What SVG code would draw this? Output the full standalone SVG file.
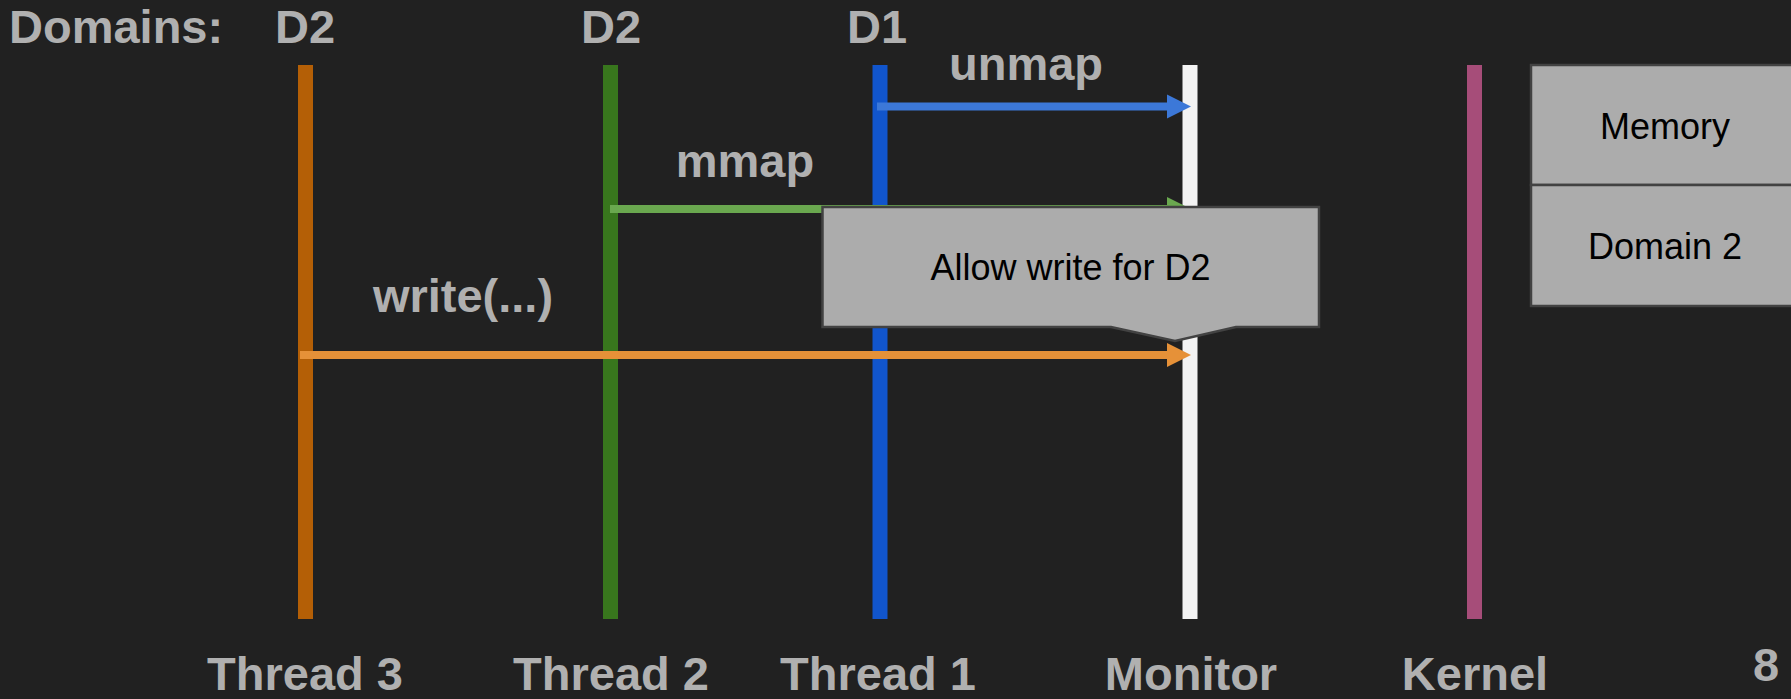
<svg xmlns="http://www.w3.org/2000/svg" width="1791" height="699" viewBox="0 0 1791 699">
  <style>
    .lbl { font-family: "Liberation Sans", Arial, sans-serif; font-weight: bold; font-size: 47px; fill: #b0b0b0; }
    .mid { text-anchor: middle; }
    .box { fill: #acacac; stroke: #424242; stroke-width: 2.5; }
    .boxtxt { font-family: "Liberation Sans", Arial, sans-serif; font-size: 36px; fill: #000000; text-anchor: middle; }
    .life { stroke-width: 15; }
    .msg { stroke-width: 8; fill: none; }
  </style>
  <defs>
    <marker id="headBlue" markerUnits="userSpaceOnUse" markerWidth="24" markerHeight="24" refX="0" refY="12" orient="auto" overflow="visible">
      <path d="M0,0 L24,12 L0,24 z" fill="#3c78d8"/>
    </marker>
    <marker id="headGreen" markerUnits="userSpaceOnUse" markerWidth="24" markerHeight="24" refX="0" refY="12" orient="auto" overflow="visible">
      <path d="M0,0 L24,12 L0,24 z" fill="#6aa84f"/>
    </marker>
    <marker id="headOrange" markerUnits="userSpaceOnUse" markerWidth="24" markerHeight="24" refX="0" refY="12" orient="auto" overflow="visible">
      <path d="M0,0 L24,12 L0,24 z" fill="#e69138"/>
    </marker>
  </defs>

  <rect x="0" y="0" width="1791" height="699" fill="#212121"/>

  <!-- domain header -->
  <g id="domains">
    <text class="lbl" x="9" y="43">Domains:</text>
    <text class="lbl mid" x="305" y="43">D2</text>
    <text class="lbl mid" x="611" y="43">D2</text>
    <text class="lbl mid" x="877" y="43">D1</text>
  </g>

  <!-- lifelines -->
  <g id="thread3">
    <line class="life" x1="305.5" y1="65" x2="305.5" y2="619" stroke="#b45f06"/>
    <text class="lbl mid" x="305" y="690">Thread 3</text>
  </g>
  <g id="thread2">
    <line class="life" x1="610.5" y1="65" x2="610.5" y2="619" stroke="#38761d"/>
    <text class="lbl mid" x="611" y="690">Thread 2</text>
  </g>
  <g id="thread1">
    <line class="life" x1="880" y1="65" x2="880" y2="619" stroke="#1155cc"/>
    <text class="lbl mid" x="878" y="690">Thread 1</text>
  </g>
  <g id="monitor">
    <line class="life" x1="1190" y1="65" x2="1190" y2="619" stroke="#f3f3f3"/>
    <text class="lbl mid" x="1191" y="690">Monitor</text>
  </g>
  <g id="kernel">
    <line class="life" x1="1474.5" y1="65" x2="1474.5" y2="619" stroke="#a64d79"/>
    <text class="lbl mid" x="1475" y="690">Kernel</text>
  </g>

  <!-- calls into the monitor -->
  <g id="connectors">
    <line class="msg" x1="877" y1="106.5" x2="1167" y2="106.5" stroke="#3c78d8" marker-end="url(#headBlue)"/>
    <text class="lbl mid" x="1026" y="80">unmap</text>
    <line class="msg" x1="610" y1="209" x2="1167" y2="209" stroke="#6aa84f" marker-end="url(#headGreen)"/>
    <text class="lbl mid" x="745" y="177">mmap</text>
    <line class="msg" x1="300" y1="355" x2="1167" y2="355" stroke="#e69138" marker-end="url(#headOrange)"/>
    <text class="lbl mid" x="463" y="312">write(...)</text>
  </g>

  <!-- monitor decision callout -->
  <g id="callout">
    <path class="box" d="M822.5,207 H1319 V327 H1236 L1175,341 L1111,327 H822.5 Z" stroke-width="2"/>
    <text class="boxtxt" x="1070.5" y="280">Allow write for D2</text>
  </g>

  <!-- memory region -->
  <g id="memory">
    <rect class="box" x="1531" y="65" width="268" height="120"/>
    <text class="boxtxt" x="1665" y="139">Memory</text>
  </g>
  <g id="domain2">
    <rect class="box" x="1531" y="185" width="268" height="121"/>
    <text class="boxtxt" x="1665" y="259">Domain 2</text>
  </g>

  <g id="page">
    <text class="lbl mid" x="1766" y="681" font-size="53">8</text>
  </g>
</svg>
